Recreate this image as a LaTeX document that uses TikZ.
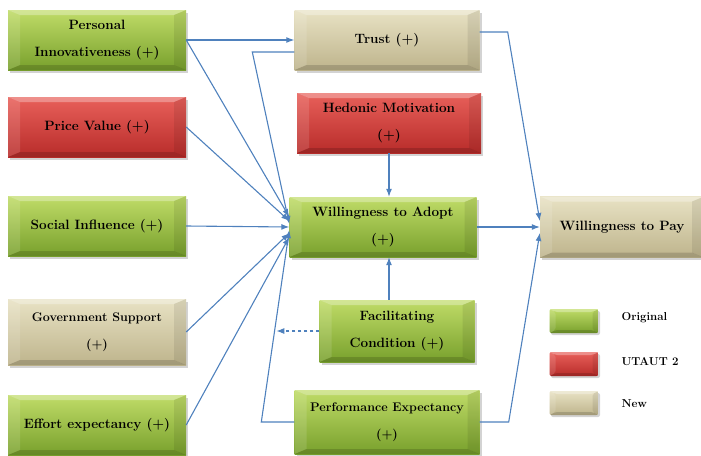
\documentclass[tikz,border=0pt]{standalone}
\usetikzlibrary{arrows.meta,positioning,shadows}

\definecolor{lineblue}{RGB}{79,129,189}
\definecolor{greentop}{RGB}{192,220,104}
\definecolor{greenbot}{RGB}{120,160,44}
\definecolor{redtop}{RGB}{232,96,90}
\definecolor{redbot}{RGB}{184,44,42}
\definecolor{tantop}{RGB}{232,226,196}
\definecolor{tanbot}{RGB}{190,180,140}

% bevelled facets drawn inside a box
\newcommand\bevel[2]{%
  \fill[white,opacity=.3] (path picture bounding box.north west) -- (path picture bounding box.north east)
      -- ([shift={(-#1,-#2)}]path picture bounding box.north east) -- ([shift={(#1,-#2)}]path picture bounding box.north west) -- cycle;
  \fill[black,opacity=.15] (path picture bounding box.south west) -- (path picture bounding box.south east)
      -- ([shift={(-#1,#2)}]path picture bounding box.south east) -- ([shift={(#1,#2)}]path picture bounding box.south west) -- cycle;
  \fill[black,opacity=.08] (path picture bounding box.north east) -- (path picture bounding box.south east)
      -- ([shift={(-#1,#2)}]path picture bounding box.south east) -- ([shift={(-#1,-#2)}]path picture bounding box.north east) -- cycle;
  \fill[white,opacity=.12] (path picture bounding box.north west) -- (path picture bounding box.south west)
      -- ([shift={(#1,#2)}]path picture bounding box.south west) -- ([shift={(#1,-#2)}]path picture bounding box.north west) -- cycle;
}

\tikzset{
  box/.style={minimum width=178pt, minimum height=60pt, align=center, inner sep=0pt,
    font=\fontsize{13.5}{27}\selectfont\bfseries,
    drop shadow={shadow xshift=2pt,shadow yshift=-2.5pt,opacity=.35},
    path picture={\bevel{12pt}{5pt}}},
  orig/.style={box, top color=greentop, bottom color=greenbot},
  utaut/.style={box, top color=redtop, bottom color=redbot},
  new/.style={box, top color=tantop, bottom color=tanbot},
  key/.style={minimum width=49pt, minimum height=24pt, inner sep=0pt, rounded corners=2pt,
    drop shadow={shadow xshift=1.5pt,shadow yshift=-2pt,opacity=.35},
    path picture={\bevel{6pt}{3pt}}},
  keytext/.style={anchor=west, font=\fontsize{11.5}{13}\selectfont\bfseries},
  arr/.style={draw=lineblue, line width=1.1pt, -{Latex[length=8pt,width=6pt]}},
  ln/.style={draw=lineblue, line width=1.1pt}
}

\begin{document}
\begin{tikzpicture}[x=1pt,y=-1pt]
  \useasboundingbox (0,0) rectangle (701,455);

  % left column
  \node[orig]  (pi) at (97,40)  {Personal\\Innovativeness (+)};
  \node[utaut] (pv) at (97,127) {Price Value (+)};
  \node[orig]  (si) at (97,226) {Social Influence (+)};
  \node[new, minimum height=66pt, font=\fontsize{12.5}{27}\selectfont\bfseries]
               (gs) at (97,332) {Government Support\\(+)};
  \node[orig]  (ee) at (97,425) {Effort expectancy (+)};

  % middle column
  \node[new, minimum width=185pt]   (trust) at (387,40)  {Trust (+)};
  \node[utaut, minimum width=184pt] (hm)    at (389,123) {Hedonic Motivation\\(+)};
  \node[orig, minimum width=187pt]  (wa)    at (383,227) {Willingness to Adopt\\(+)};
  \node[orig, minimum width=155pt, minimum height=62pt]
                                    (fc)    at (397,331) {Facilitating\\Condition (+)};
  \node[orig, minimum width=185pt, minimum height=64pt, font=\fontsize{12.5}{27}\selectfont\bfseries]
                                    (pe)    at (387,422) {Performance Expectancy\\(+)};

  % outcome
  \node[new, minimum width=164pt, minimum height=61pt] (wtp) at (622,227) {Willingness to Pay};

  % legend
  \node[key, top color=greentop, bottom color=greenbot] (k1) at (574,321) {};
  \node[key, top color=redtop, bottom color=redbot]     (k2) at (574,364) {};
  \node[key, top color=tantop, bottom color=tanbot]     (k3) at (574,403) {};
  \node[keytext] (t1) at (618,318) {Original};
  \node[keytext] (t2) at (618,362) {UTAUT 2};
  \node[keytext] (t3) at (618,404) {New};

  % connectors
  \draw[arr] (pi.east) -- (trust.west);
  \draw[arr] (pi.east) -- ([yshift=10pt]wa.west);
  \draw[arr] (pv.east) -- ([yshift=6pt]wa.west);
  \draw[arr] (si.east) -- (wa.west);
  \draw[arr] (gs.east) -- ([yshift=-6pt]wa.west);
  \draw[arr] (ee.east) -- ([yshift=-10pt]wa.west);
  \draw[arr] ([yshift=-12pt]trust.west) -- ++(-42,0) -- ([yshift=3pt]wa.west);
  \draw[arr] (pe.west) -- ++(-33,0) -- ([yshift=-3pt]wa.west);
  \draw[arr] (hm.south) -- (hm.south |- wa.north);
  \draw[arr] (fc.north -| hm.south) -- (hm.south |- wa.south);
  \draw[arr, dashed] (fc.west) -- ++(-43,0) coordinate (fcend);
  \draw[arr] (wa.east) -- (wtp.west);
  \draw[arr] ([yshift=8pt]trust.east) -- ++(28,0) -- ([yshift=6pt]wtp.west);
  \draw[arr] (pe.east) -- ++(29,0) -- ([yshift=-6pt]wtp.west);
\end{tikzpicture}
\end{document}
